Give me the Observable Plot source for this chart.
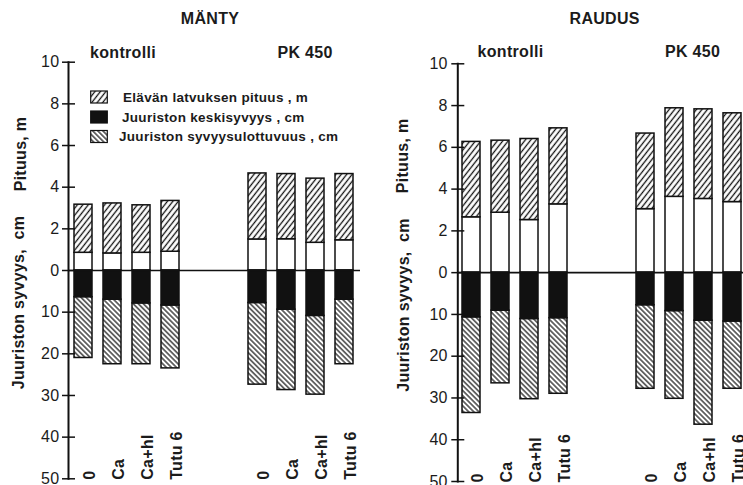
<!DOCTYPE html>
<html><head><meta charset="utf-8">
<script src="https://cdn.jsdelivr.net/npm/d3@7"></script>
<script src="https://cdn.jsdelivr.net/npm/@observablehq/plot@0.6"></script>
<style>
body{margin:0;background:#fff;}
#wrap{position:relative;width:743px;height:485px;overflow:hidden;font-family:"Liberation Sans",Arial,sans-serif;color:#1b1b1b;}
#wrap text{letter-spacing:0.3px;}
.panel{position:absolute;top:0;}
#legend{position:absolute;left:0;top:0;}
</style></head><body>
<svg width="0" height="0" style="position:absolute">
  <defs>
    <pattern id="hatchCrown" patternUnits="userSpaceOnUse" width="4.3" height="10" patternTransform="rotate(38)">
      <rect width="4.3" height="10" fill="#fff"/>
      <line x1="2.15" y1="0" x2="2.15" y2="10" stroke="#111" stroke-width="1.3"/>
    </pattern>
    <pattern id="hatchRoot" patternUnits="userSpaceOnUse" width="3.6" height="10" patternTransform="rotate(-45)">
      <rect width="3.6" height="10" fill="#fff"/>
      <line x1="1.8" y1="0" x2="1.8" y2="10" stroke="#111" stroke-width="1.2"/>
    </pattern>
  </defs>
</svg>
<div id="wrap"></div>
<script>
// ---- data ----
const species = ["MÄNTY", "RAUDUS"];
const groups = ["kontrolli", "PK 450"];
const treatments = ["0", "Ca", "Ca+hl", "Tutu 6"];
const heightTickLabels = [0, 2, 4, 6, 8, 10];      // m
const depthTickLabels = [10, 20, 30, 40, 50];      // cm
const legendLabels = ["Elävän latvuksen pituus , m", "Juuriston keskisyvyys , cm", "Juuriston syvyysulottuvuus , cm"];
const yLabelHeight = "Pituus, m";
const yLabelDepth = "Juuriston syvyys,\u00a0 cm";

// MÄNTY (kontrolli 0, Ca, Ca+hl, Tutu 6 ; PK 450 0, Ca, Ca+hl, Tutu 6)
const mantyHeight    = [3.16, 3.22, 3.13, 3.34, 4.66, 4.63, 4.41, 4.63];
const mantyCrownBase = [0.85, 0.82, 0.85, 0.90, 1.49, 1.50, 1.33, 1.45];
const mantyRootMean  = [6.4, 7.0, 7.9, 8.4, 7.8, 9.4, 10.9, 7.0];
const mantyRootMax   = [21.0, 22.5, 22.5, 23.5, 27.4, 28.7, 29.8, 22.5];
// RAUDUS
const raudusHeight    = [6.26, 6.32, 6.40, 6.91, 6.66, 7.87, 7.82, 7.63];
const raudusCrownBase = [2.65, 2.87, 2.52, 3.27, 3.04, 3.63, 3.53, 3.38];
const raudusRootMean  = [10.7, 9.1, 11.1, 10.9, 7.8, 9.2, 11.5, 11.7];
const raudusRootMax   = [33.6, 26.5, 30.3, 29.0, 27.8, 30.2, 36.4, 27.8];

// axis ratio of the figure: 10 m above ground is drawn as long as 50 cm below
const CM_PER_M = 5;

const slotKey = (g, t) => `${g}|${t}`;
const slots = [
  ...treatments.map(t => slotKey(groups[0], t)),
  "gap-a", "gap-b",
  ...treatments.map(t => slotKey(groups[1], t))
];

function rowsFor(height, crownBase, rootMean, rootMax) {
  return groups.flatMap((g, gi) => treatments.map((t, ti) => {
    const i = gi * treatments.length + ti;
    return {slot: slotKey(g, t), group: g, treatment: t,
            height: height[i], crownBase: crownBase[i],
            rootMean: -rootMean[i] / CM_PER_M, rootMax: -rootMax[i] / CM_PER_M};
  }));
}

const yTicks = [...heightTickLabels, ...depthTickLabels.map(d => -d / CM_PER_M)];
const yFormat = v => v >= 0 ? String(v) : String(Math.round(-v * CM_PER_M));

const FONT = '"Liberation Sans", Arial, sans-serif';
const INK = "#1b1b1b";

function panel(p) {
  const rows = p.rows;
  return Plot.plot({
    width: p.width, height: 485,
    marginLeft: p.marginLeft, marginRight: p.marginRight,
    marginTop: p.marginTop, marginBottom: p.marginBottom,
    style: {fontFamily: FONT, color: INK, background: "transparent", overflow: "visible"},
    x: {type: "band", domain: slots, range: p.xRange, paddingInner: 0.37, paddingOuter: 0, axis: null},
    y: {domain: [-10, 10]},
    marks: [
      // trunk part below the living crown
      Plot.barY(rows, {x: "slot", y1: 0, y2: "crownBase", fill: "#fff", stroke: "#111", strokeWidth: 1.5}),
      // living crown
      Plot.barY(rows, {x: "slot", y1: "crownBase", y2: "height", fill: "url(#hatchCrown)", stroke: "#111", strokeWidth: 1.5}),
      // root spread
      Plot.barY(rows, {x: "slot", y1: "rootMean", y2: "rootMax", fill: "url(#hatchRoot)", stroke: "#111", strokeWidth: 1.5}),
      // mean root depth
      Plot.barY(rows, {x: "slot", y1: 0, y2: "rootMean", fill: "#111", stroke: "#111", strokeWidth: 1.5}),
      Plot.ruleY([0], {stroke: "#111", strokeWidth: 1.6}),
      Plot.frame({anchor: "left", stroke: "#111", strokeWidth: 2}),
      Plot.axisY({ticks: yTicks, tickFormat: yFormat, tickSize: 13, dx: 7, tickPadding: p.tickPadding,
                  fontSize: 16, label: null, stroke: "#111", strokeWidth: 1.5}),
      // category labels
      Plot.text(rows, {x: "slot", text: "treatment", frameAnchor: "bottom", lineAnchor: "middle", rotate: -90, textAnchor: "start",
                       dx: 6, dy: 1, fontWeight: "bold", fontSize: 16, fill: INK}),
      // y-axis titles
      Plot.text([yLabelHeight], {text: d => d, frameAnchor: "left", y: 3.8, rotate: -90, dx: p.titleDx1,
                                 fontWeight: "bold", fontSize: 16, fill: INK}),
      Plot.text([yLabelDepth], {text: d => d, frameAnchor: "left", y: -5.7, rotate: -90, dx: p.titleDx2,
                                fontWeight: "bold", fontSize: 16, fill: INK}),
      // group labels
      Plot.text([groups[0]], {text: d => d, x: d => slotKey(d, treatments[1]), frameAnchor: "top", lineAnchor: "middle",
                              dy: p.groupDy, dx: p.groupDx[0], fontWeight: "bold", fontSize: 16, fill: INK}),
      Plot.text([groups[1]], {text: d => d, x: d => slotKey(d, treatments[1]), frameAnchor: "top", lineAnchor: "middle",
                              dy: p.groupDy, dx: p.groupDx[1], fontWeight: "bold", fontSize: 16, fill: INK}),
      // species title
      Plot.text([p.title], {text: d => d, frameAnchor: "top", lineAnchor: "middle", dy: p.titleDy, dx: p.speciesDx,
                            fontWeight: "bold", fontSize: 16, fill: INK})
    ]
  });
}

const wrap = document.getElementById("wrap");

const left = panel({
  title: species[0], rows: rowsFor(mantyHeight, mantyCrownBase, mantyRootMean, mantyRootMax),
  width: 370, marginLeft: 68, marginRight: 10, marginTop: 61.7, marginBottom: 6.7,
  xRange: [73, 354], tickPadding: 3, titleDx1: -48, titleDx2: -49.5,
  groupDy: -9.5, groupDx: [10.5, 18.5], titleDy: -43, speciesDx: -4.5
});
left.classList.add("panel");
left.style.left = "0px";
wrap.appendChild(left);

const right = panel({
  title: species[1], rows: rowsFor(raudusHeight, raudusCrownBase, raudusRootMean, raudusRootMax),
  width: 373, marginLeft: 87.3, marginRight: 0, marginTop: 63.3, marginBottom: 4,
  xRange: [91.7, 372], tickPadding: 4, titleDx1: -55, titleDx2: -54,
  groupDy: -11.6, groupDx: [10, 18], titleDy: -45, speciesDx: 4
});
right.classList.add("panel");
right.style.left = "370px";
wrap.appendChild(right);

// legend (inside the MÄNTY panel)
const fills = ["url(#hatchCrown)", "#111", "url(#hatchRoot)"];
const ns = "http://www.w3.org/2000/svg";
const lg = document.createElementNS(ns, "svg");
lg.setAttribute("id", "legend");
lg.setAttribute("width", 370);
lg.setAttribute("height", 160);
const rowY = [91, 111, 130.5];
const textX = [123, 122, 119];
legendLabels.forEach((label, i) => {
  const r = document.createElementNS(ns, "rect");
  r.setAttribute("x", 90.7); r.setAttribute("y", rowY[i]);
  r.setAttribute("width", 16.6); r.setAttribute("height", 12);
  r.setAttribute("fill", fills[i]); r.setAttribute("stroke", "#111"); r.setAttribute("stroke-width", 1.2);
  lg.appendChild(r);
  const t = document.createElementNS(ns, "text");
  t.setAttribute("x", textX[i]); t.setAttribute("y", rowY[i] + 10.5);
  t.setAttribute("font-family", FONT); t.setAttribute("font-size", 13.5);
  t.setAttribute("font-weight", "bold"); t.setAttribute("fill", INK);
  t.textContent = label;
  lg.appendChild(t);
});
wrap.appendChild(lg);
</script>
</body></html>
